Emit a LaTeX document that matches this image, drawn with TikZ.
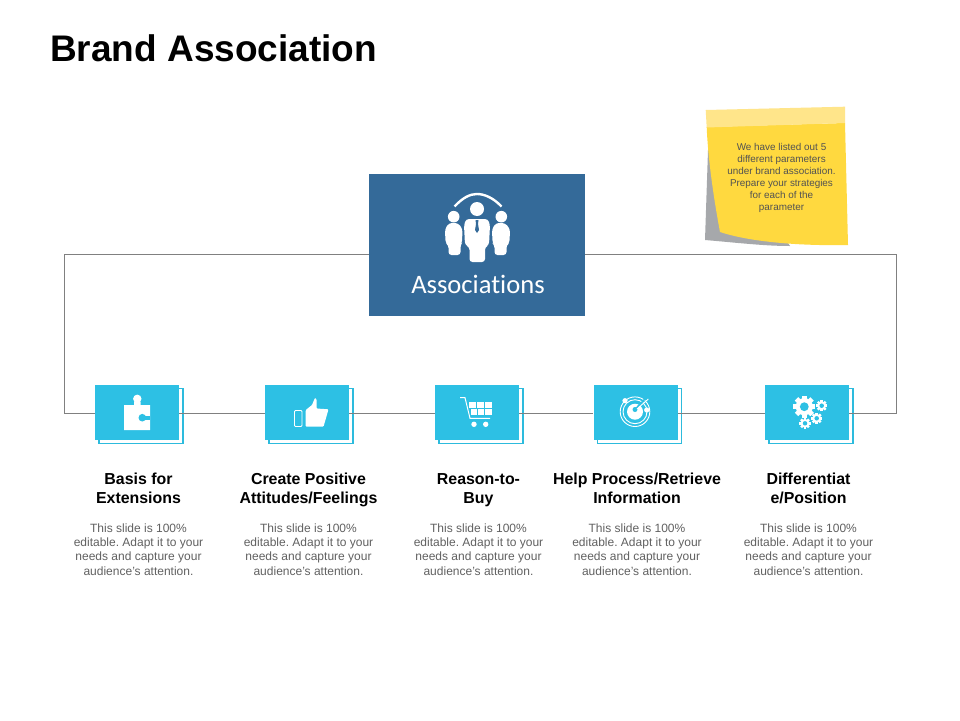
\documentclass[tikz,border=0pt]{standalone}
\usepackage{fontspec}
\setmainfont{Liberation Sans}
\newfontfamily\hubfont[Ligatures=NoCommon]{Carlito}
\frenchspacing
\newcommand{\blurb}{This slide is 100\%\\editable. Adapt it to your\\needs and capture your\\audience's attention.}
\newcommand{\gearicon}[3]{%
  \foreach \a in {0,45,...,135} {
    \fill[white,shift={(#1,#2)},rotate=\a] (-#3*0.22,-#3) rectangle (#3*0.22,#3);
  }
  \fill[white] (#1,#2) circle[radius=#3*0.78];
  \fill[boxblue] (#1,#2) circle[radius=#3*0.4];
}
\definecolor{hubblue}{HTML}{346A99}
\definecolor{boxblue}{HTML}{2DC0E4}
\definecolor{backblue}{HTML}{2DBBDD}
\definecolor{noteyellow}{HTML}{FFD93F}
\definecolor{notelight}{HTML}{FFE58A}
\definecolor{noteshadow}{HTML}{A6A8AB}
\begin{document}
\begin{tikzpicture}[x=1pt,y=-1pt]
  \tikzstyle{frameline}=[draw=black!50,line width=0.8pt]
  \tikzstyle{itembox}=[fill=boxblue,minimum width=84pt,minimum height=55pt,inner sep=0pt]
  \tikzstyle{itemback}=[draw=backblue,line width=1.2pt,minimum width=84pt,minimum height=55pt,inner sep=0pt]
  \tikzstyle{itemhead}=[align=center,font=\fontsize{15.9}{19}\selectfont\bfseries,text=black,inner sep=0pt]
  \tikzstyle{itemtext}=[align=center,font=\fontsize{12}{14.3}\selectfont,text=black!62,inner sep=0pt]
  \useasboundingbox (0,0) rectangle (960,720);
  \fill[white] (0,0) rectangle (960,720);

  \node[anchor=west,inner sep=0pt,font=\fontsize{37}{40}\selectfont\bfseries] (title) at (50,48) {Brand Association};

  % sticky note
  \fill[noteshadow] (708,150) -- (705,240) .. controls (740,243) and (765,246) .. (790,246) -- (760,200) -- cycle;
  \fill[noteyellow] (706.7,127) -- (845,123) -- (848,245) .. controls (800,246) and (750,242) .. (720,232) .. controls (714,200) and (708,160) .. cycle;
  \fill[notelight] (705.7,110) -- (845,106.7) -- (845,123) -- (706.7,127.5) -- cycle;
  \node[align=center,font=\fontsize{9.9}{12}\selectfont,text=black!68,inner sep=0pt] (note) at (781.5,177.5) {We have listed out 5\\different parameters\\under brand association.\\Prepare your strategies\\for each of the\\parameter};

  % hub
  \node[fill=hubblue,minimum width=216pt,minimum height=142pt,inner sep=0pt] (hub) at (477,245) {};
  \node[text=white,inner sep=0pt,font=\fontsize{26.6}{28}\selectfont\hubfont] (hublabel) at (478,284) {Associations};

  % people on the hub
  \draw[white,line width=2.4pt] (454.5,206.5) .. controls (463,197.5) and (470,194) .. (477,194) .. controls (484,194) and (493,197.5) .. (501.5,206.5);
  \fill[white] (477,209) circle[radius=7];
  \fill[white] (453.7,216.7) circle[radius=5.8];
  \fill[white] (501.3,216.7) circle[radius=5.8];
  \fill[white,rounded corners=3pt] (466,219) -- (488,219) -- (490,225) -- (489,245) -- (485,247) -- (485,262) -- (469.5,262) -- (469.5,247) -- (465,245) -- (464,225) -- cycle;
  \fill[white,rounded corners=3pt] (449,223) -- (458,223) -- (462.5,229) -- (462,243) -- (460.5,245) -- (460.5,255) -- (448.5,255) -- (448.5,245) -- (445.5,243) -- (445,229) -- cycle;
  \fill[white,rounded corners=3pt] (496,223) -- (505,223) -- (510,229) -- (509.5,243) -- (506.5,245) -- (506.5,255) -- (494.5,255) -- (494.5,245) -- (492.5,243) -- (492,229) -- cycle;
  \fill[hubblue] (475.5,220) -- (478.5,220) -- (478,224) -- (479,230) -- (477,233) -- (475,230) -- (476,224) -- cycle;

  % frame corners
  \coordinate (frameNW) at (64.7,254);
  \coordinate (frameSW) at (64.7,413);
  \coordinate (frameNE) at (896.5,254);
  \coordinate (frameSE) at (896.5,413);

  % the five items
  \foreach \n/\px/\headtext in {
    1/137/{Basis for\\Extensions},
    2/307/{Create Positive\\Attitudes/Feelings},
    3/477/{Reason-to-\\Buy},
    4/635.5/{Help Process/Retrieve\\Information},
    5/807/{Differentiat\\e/Position}} {
    \node[itemback] (back\n) at (\px+4,416) {};
    \node[itembox] (box\n) at (\px,412.3) {};
    \node[itemhead] (head\n) at (\px+1.5,490.5) {\strut\headtext\strut};
    \node[itemtext] (text\n) at (\px+1.5,549.4) {\blurb};
  }

  \draw[frameline] (hub.west |- frameNW) -- (frameNW) -- (frameSW) -- (box1.west |- frameSW);
  \draw[frameline] (hub.east |- frameNE) -- (frameNE) -- (frameSE) -- (box5.east |- frameSE);
  \foreach \a/\b in {1/2,2/3,3/4,4/5} {
    \draw[frameline] (box\a.east |- frameSW) -- (box\b.west |- frameSW);
  }

  % puzzle icon
  \fill[white] (124,405) -- (134,405) -- (134,402) -- (140.5,402) -- (140.5,405) -- (150,405) -- (150,430) -- (124,430) -- cycle;
  \fill[white] (137.3,398.8) circle[radius=4.2];
  \fill[boxblue] (142.3,417.7) circle[radius=3.8];
  \fill[boxblue] (143,415.7) rectangle (150.2,419.7);

  % thumb icon
  \draw[white,line width=0.9pt,rounded corners=1pt] (294.5,410.5) rectangle (302,426.5);
  \fill[white,rounded corners=1pt] (305.7,410) -- (312,405) -- (315,397.7) -- (316.5,399) -- (316.5,408.5) -- (328.5,409.3) -- (323.5,426.7) -- (305.7,426.7) -- cycle;

  % cart icon
  \draw[white,line width=1pt] (460,397.7) -- (465,397.7) -- (470,418.3) -- (490,418.3);
  \foreach \cx/\cy in {469/402,477/402,485/402,470.5/409,477.7/409,484.9/409} {
    \fill[white] (\cx,\cy) rectangle (\cx+6.6,\cy+5.8);
  }
  \fill[white] (474,424.3) circle[radius=2.7];
  \fill[white] (485.7,424.3) circle[radius=2.7];

  % radar icon
  \draw[white,line width=0.9pt] (635,411.7) circle[radius=14.8];
  \draw[white,line width=0.9pt] (635,411.7) circle[radius=12];
  \fill[white] (635,411.7) circle[radius=8];
  \fill[boxblue] (635,409.5) circle[radius=2.5];
  \draw[boxblue,line width=1.6pt] (635,409.5) -- (645,399);
  \draw[white,line width=0.9pt] (637,409) -- (648.3,399);
  \fill[white] (625,400.7) circle[radius=2.6];
  \fill[white] (646.7,410) circle[radius=2.6];

  % gears icon
  \gearicon{804.3}{406.7}{11}
  \gearicon{821.7}{405.7}{5.6}
  \gearicon{816.7}{418.3}{5.6}
  \gearicon{805}{423.3}{5.6}
\end{tikzpicture}
\end{document}
